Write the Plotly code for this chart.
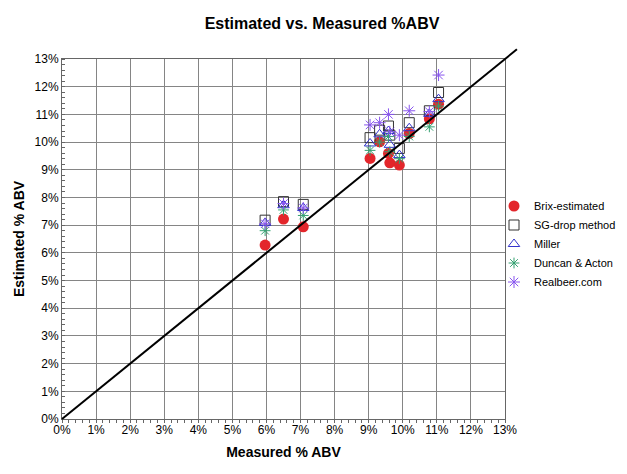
import plotly.graph_objects as go

measured = [5.96, 6.50, 7.08, 9.04, 9.32, 9.58, 9.62, 9.90, 10.19, 10.78, 11.05]
brix_est = [6.28, 7.22, 6.94, 9.41, 10.01, 9.59, 9.25, 9.17, 10.31, 10.84, 11.37]
sg_drop = [7.18, 7.85, 7.75, 10.16, 10.43, 10.58, 10.25, 9.77, 10.70, 11.13, 11.79]
miller = [7.08, 7.72, 7.62, 9.95, 10.28, 10.40, 9.90, 9.53, 10.50, 11.02, 11.55]
duncan = [6.80, 7.55, 7.35, 9.70, 10.00, 10.20, 9.65, 9.40, 10.20, 10.55, 11.30]
realbeer = [7.05, 7.78, 7.62, 10.62, 10.70, 11.00, 10.37, 10.25, 11.13, 11.10, 12.42]

tick_vals = list(range(0, 14))
tick_text = [f"{v}%" for v in tick_vals]
line_end = 13.35

font_family = "Liberation Sans, Arial, sans-serif"
W, H = 619, 466

fig = go.Figure()

fig.add_trace(go.Scatter(x=measured, y=brix_est, mode="markers", name="Brix-estimated",
                         marker=dict(symbol="circle", size=11, color="#E3262B",
                                     line=dict(width=0))))
fig.add_trace(go.Scatter(x=measured, y=sg_drop, mode="markers", name="SG-drop method",
                         marker=dict(symbol="square-open", size=10, color="#333333",
                                     line=dict(width=1))))
fig.add_trace(go.Scatter(x=measured, y=miller, mode="markers", name="Miller",
                         marker=dict(symbol="triangle-up-open", size=10, color="#3333CC",
                                     line=dict(width=1))))
fig.add_trace(go.Scatter(x=measured, y=duncan, mode="markers", name="Duncan & Acton",
                         marker=dict(symbol="asterisk-open", size=9, color="#33A070",
                                     line=dict(width=1, color="#33A070"))))
fig.add_trace(go.Scatter(x=measured, y=realbeer, mode="markers", name="Realbeer.com",
                         marker=dict(symbol="asterisk-open", size=10, color="#8855EE",
                                     line=dict(width=1, color="#8855EE"))))

# 1:1 reference line (extends slightly beyond plot frame like the original)
fig.add_shape(type="line", xref="x domain", yref="y domain",
              x0=0, y0=0, x1=line_end / 13, y1=line_end / 13,
              line=dict(color="black", width=2), layer="above")

axis_common = dict(
    range=[0, 13], tickvals=tick_vals, ticktext=tick_text,
    showgrid=True, gridcolor="#858585", gridwidth=1,
    showline=True, linecolor="#666666", linewidth=1, mirror=True,
    zeroline=False, ticks="", automargin=False,
    tickfont=dict(size=12, color="black", family=font_family),
)

fig.update_layout(
    width=W, height=H,
    margin=dict(l=54, r=122, t=51, b=55, autoexpand=False),
    paper_bgcolor="white", plot_bgcolor="white",
    font=dict(family=font_family, color="black"),
    title=dict(text="<b>Estimated vs. Measured %ABV</b>", x=314 / W, xref="container",
               xanchor="center", y=1 - 15 / H, yref="container", yanchor="middle",
               font=dict(size=16, color="black")),
    xaxis=dict(**axis_common,
               title=dict(text="<b>Measured % ABV</b>", font=dict(size=14), standoff=10),
               minor=dict(dtick=0.2, ticks="outside", ticklen=3, tickcolor="#666666",
                          showgrid=False)),
    yaxis=dict(**axis_common,
               title=dict(text="<b>Estimated % ABV</b>", font=dict(size=14), standoff=6),
               minor=dict(dtick=0.2, ticks="inside", ticklen=3, tickcolor="#666666",
                          showgrid=False)),
    legend=dict(x=486 / W, y=1 - 236 / H, xref="container", yref="container",
                xanchor="left", yanchor="middle",
                font=dict(size=11, color="black"), bgcolor="rgba(0,0,0,0)",
                itemwidth=30, tracegroupgap=0),
    showlegend=True,
)

fig.write_html("out.html")
